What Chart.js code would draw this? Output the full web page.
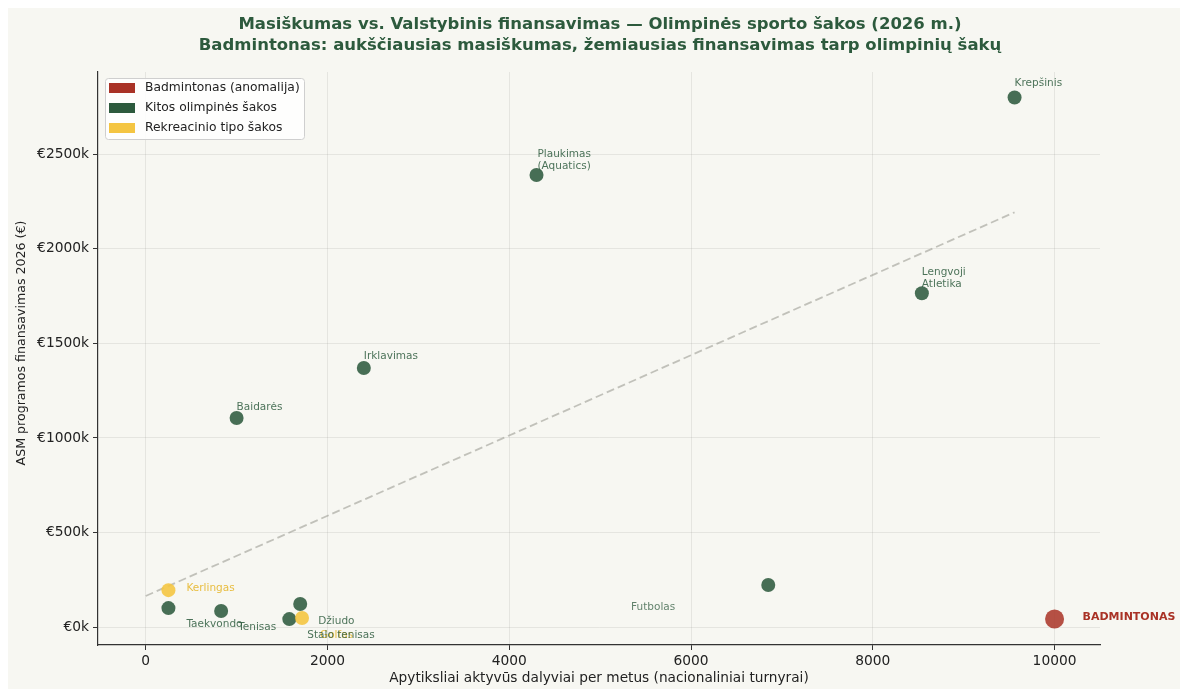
<!DOCTYPE html>
<html><head><meta charset="utf-8">
<script src="https://cdn.jsdelivr.net/npm/chart.js@4.4.1/dist/chart.umd.min.js"></script>
<style>
html,body{margin:0;padding:0;background:#fff;}
#wrap{position:absolute;left:8px;top:8px;width:1172px;height:681px;background:#f7f7f2;}
canvas{display:block;}
</style></head><body>
<div id="wrap"><canvas id="c" width="1172" height="681"></canvas></div>
<script>
const titleLines = ['Masiškumas vs. Valstybinis finansavimas — Olimpinės sporto šakos (2026 m.)',
  'Badmintonas: aukščiausias masiškumas, žemiausias finansavimas tarp olimpinių šakų'];
const xTitle = 'Apytiksliai aktyvūs dalyviai per metus (nacionaliniai turnyrai)';
const yTitle = 'ASM programos finansavimas 2026 (€)';
const xTicks = [0, 2000, 4000, 6000, 8000, 10000];
const yTicks = [0, 500000, 1000000, 1500000, 2000000, 2500000];
const legendLabels = ['Badmintonas (anomalija)', 'Kitos olimpinės šakos', 'Rekreacinio tipo šakos'];

const badmNames = ['BADMINTONAS'];
const badmX = [10000];
const badmY = [42000];

const olyNames = ['Krepšinis', 'Plaukimas\n(Aquatics)', 'Lengvoji\nAtletika', 'Irklavimas', 'Baidarės',
  'Futbolas', 'Taekvondo', 'Tenisas', 'Džiudo', 'Stalo tenisas'];
const olyX = [9560, 4300, 8540, 2400, 1000, 6850, 250, 830, 1700, 1580];
const olyY = [2800000, 2390000, 1765000, 1370000, 1105000, 222000, 100000, 85000, 122000, 42000];

const recNames = ['Kerlingas', 'Golfas'];
const recX = [250, 1720];
const recY = [195000, 48000];

const trendX = [0, 9560];
const trendY = [164000, 2193000];

const FONT = '"DejaVu Sans", sans-serif';
const GREEN = '#2d5a3d', RED = '#a93226', YELLOW = '#f4c542';

const toPts = (xs, ys) => xs.map((x, i) => ({x: x, y: ys[i]}));

const labelStyle = {
  'BADMINTONAS': {dx: 28, dy: -2, color: RED, bold: true, size: 11},
  'Krepšinis': {dx: 0, dy: -14},
  'Plaukimas\n(Aquatics)': {dx: 1, dy: -9},
  'Lengvoji\nAtletika': {dx: 0, dy: -9},
  'Irklavimas': {dx: 0, dy: -12},
  'Baidarės': {dx: 0, dy: -11},
  'Futbolas': {dx: -93, dy: 22, align: 'right', color: 'rgba(45,90,61,0.75)'},
  'Taekvondo': {dx: 18, dy: 16},
  'Tenisas': {dx: 17, dy: 16},
  'Džiudo': {dx: 18, dy: 17},
  'Stalo tenisas': {dx: 18, dy: 16},
  'Kerlingas': {dx: 18, dy: -2, color: '#e8bd40'},
  'Golfas': {dx: 18, dy: 17, color: '#e8bd40'}
};

const labelsPlugin = {
  id: 'pointLabels',
  afterDatasetsDraw(chart) {
    const ctx = chart.ctx;
    const drawOrder = [2, 1, 0];
    drawOrder.forEach(di => {
      const ds = chart.data.datasets[di];
      if (!ds.names) return;
      const meta = chart.getDatasetMeta(di);
      meta.data.forEach((el, i) => {
        const name = ds.names[i];
        const st = labelStyle[name] || {dx: 0, dy: -12};
        const lines = name.split('\n');
        ctx.save();
        ctx.font = (st.bold ? 'bold ' : '') + (st.size || 10.5) + 'px ' + FONT;
        ctx.fillStyle = st.color || 'rgba(45,90,61,0.85)';
        ctx.textAlign = st.align || 'left';
        ctx.textBaseline = 'middle';
        lines.forEach((ln, li) => {
          ctx.fillText(ln, el.x + st.dx, el.y + st.dy - (lines.length - 1 - li) * 12);
        });
        ctx.restore();
      });
    });
  }
};

const titlePlugin = {
  id: 'titleText',
  afterDraw(chart) {
    const ctx = chart.ctx;
    ctx.save();
    ctx.font = 'bold 16.5px ' + FONT;
    ctx.fillStyle = GREEN;
    ctx.textAlign = 'center';
    ctx.textBaseline = 'middle';
    ctx.fillText(titleLines[0], 592, 17);
    ctx.fillText(titleLines[1], 592, 38);
    // y axis title
    ctx.font = '12.6px ' + FONT;
    ctx.fillStyle = '#222';
    ctx.translate(14, 335);
    ctx.rotate(-Math.PI / 2);
    ctx.fillText(yTitle, 0, 0);
    ctx.restore();
  }
};

const legendPlugin = {
  id: 'boxLegend',
  afterDraw(chart) {
    const ctx = chart.ctx;
    const a = chart.chartArea;
    const x0 = a.left + 7, y0 = a.top + 6, w = 199, h = 61;
    const colors = [RED, GREEN, YELLOW];
    ctx.save();
    ctx.fillStyle = 'rgba(255,255,255,0.85)';
    ctx.strokeStyle = '#cfcfcf';
    ctx.lineWidth = 1;
    ctx.beginPath();
    ctx.roundRect(x0 + 0.5, y0 + 0.5, w, h, 3);
    ctx.fill();
    ctx.stroke();
    ctx.font = '12.3px ' + FONT;
    ctx.textAlign = 'left';
    ctx.textBaseline = 'middle';
    legendLabels.forEach((t, i) => {
      const cy = y0 + 10 + i * 20;
      ctx.fillStyle = colors[i];
      ctx.fillRect(x0 + 4, cy - 5, 26, 10);
      ctx.fillStyle = '#222';
      ctx.fillText(t, x0 + 40, cy);
    });
    ctx.restore();
  }
};

new Chart(document.getElementById('c'), {
  type: 'scatter',
  data: {
    datasets: [
      {label: legendLabels[0], names: badmNames, data: toPts(badmX, badmY), order: 0,
       backgroundColor: 'rgba(169,50,38,0.85)', borderColor: 'rgba(169,50,38,0.85)', pointRadius: 9.5, borderWidth: 0},
      {label: legendLabels[1], names: olyNames, data: toPts(olyX, olyY), order: 2,
       backgroundColor: 'rgba(45,90,61,0.87)', borderColor: 'rgba(45,90,61,0.87)', pointRadius: 7, borderWidth: 0},
      {label: legendLabels[2], names: recNames, data: toPts(recX, recY), order: 1,
       backgroundColor: 'rgba(244,197,66,0.9)', borderColor: 'rgba(244,197,66,0.9)', pointRadius: 7, borderWidth: 0},
      {label: 'trend', data: toPts(trendX, trendY), order: 3, showLine: true, pointRadius: 0,
       borderColor: 'rgba(150,150,140,0.55)', borderWidth: 1.8, borderDash: [8, 4], fill: false}
    ]
  },
  options: {
    responsive: false,
    animation: false,
    events: [],
    layout: {padding: {left: 0, top: 64, right: 80, bottom: 0}},
    plugins: {legend: {display: false}, tooltip: {enabled: false}, title: {display: false}},
    scales: {
      x: {
        type: 'linear', min: -525, max: 10500,
        afterBuildTicks: s => { s.ticks = xTicks.map(v => ({value: v})); },
        afterFit: s => { s.height = 44; },
        ticks: {font: {family: FONT, size: 13.8}, color: '#222', padding: 3, callback: v => String(v)},
        grid: {color: 'rgba(0,0,0,0.07)', tickColor: '#333', tickLength: 5, drawTicks: true},
        border: {display: true, color: '#333', width: 1.2},
        title: {display: true, text: xTitle, font: {family: FONT, size: 13.7}, color: '#222', padding: {top: 0, bottom: 2}}
      },
      y: {
        type: 'linear', min: -95000, max: 2935000,
        afterBuildTicks: s => { s.ticks = yTicks.map(v => ({value: v})); },
        afterFit: s => { s.width = 90; },
        ticks: {font: {family: FONT, size: 13.8}, color: '#222', padding: 4, callback: v => '€' + (v / 1000) + 'k'},
        grid: {color: 'rgba(0,0,0,0.07)', tickColor: '#333', tickLength: 5, drawTicks: true},
        border: {display: true, color: '#333', width: 1.2},
        title: {display: false}
      }
    }
  },
  plugins: [labelsPlugin, titlePlugin, legendPlugin]
});
</script>
</body></html>
